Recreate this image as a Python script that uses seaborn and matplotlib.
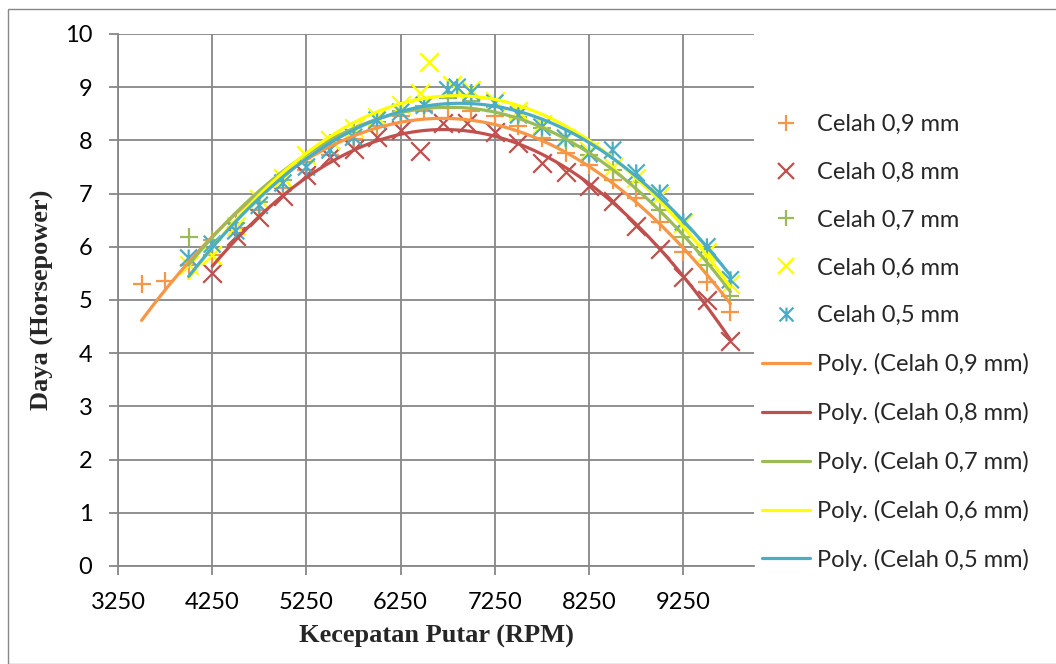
import numpy as np
import pandas as pd
import matplotlib
matplotlib.use("Agg")
import matplotlib.pyplot as plt
import seaborn as sns
from matplotlib.lines import Line2D
from matplotlib.path import Path
from matplotlib.patches import Rectangle

# ---------------- data ----------------
series_labels = ["Celah 0,9 mm", "Celah 0,8 mm", "Celah 0,7 mm", "Celah 0,6 mm", "Celah 0,5 mm"]

rpm_09 = [3500, 3750, 4000, 4250, 4500, 4750, 5000, 5250, 5500, 5750, 6000, 6250, 6500,
          6750, 7000, 7250, 7500, 7750, 8000, 8250, 8500, 8750, 9000, 9250, 9500, 9750]
hp_09 = [5.30, 5.35, 5.65, 5.85, 6.35, 6.70, 7.10, 7.45, 7.72, 8.02, 8.28, 8.45, 8.55,
         8.60, 8.55, 8.46, 8.28, 8.04, 7.76, 7.54, 7.26, 6.92, 6.47, 5.90, 5.34, 4.77]

rpm_08 = [4250, 4500, 4750, 5000, 5250, 5500, 5750, 6000, 6250, 6450, 6700, 6950,
          7250, 7500, 7750, 8000, 8250, 8500, 8750, 9000, 9250, 9500, 9750]
hp_08 = [5.50, 6.20, 6.56, 6.95, 7.35, 7.68, 7.83, 8.07, 8.20, 7.80, 8.32, 8.32,
         8.15, 7.95, 7.58, 7.40, 7.15, 6.86, 6.40, 5.96, 5.43, 5.00, 4.23]

rpm_07 = [4000, 4250, 4500, 4750, 5000, 5250, 5500, 5750, 6000, 6250, 6500, 6750,
          7000, 7250, 7500, 7750, 8000, 8250, 8500, 8750, 9000, 9250, 9500, 9750]
hp_07 = [6.18, 6.13, 6.45, 6.85, 7.25, 7.60, 7.95, 8.15, 8.35, 8.55, 8.65, 8.80,
         8.75, 8.62, 8.44, 8.23, 8.00, 7.73, 7.44, 7.21, 6.70, 6.18, 5.66, 5.08]

rpm_06 = [4000, 4250, 4500, 4750, 5000, 5250, 5500, 5750, 6000, 6250, 6450, 6550,
          6800, 7000, 7250, 7500, 7750, 8000, 8250, 8500, 8750, 9000, 9250, 9500, 9750]
hp_06 = [5.65, 5.85, 6.40, 6.90, 7.30, 7.72, 8.00, 8.23, 8.44, 8.66, 8.90, 9.47,
         9.04, 8.95, 8.75, 8.55, 8.30, 8.05, 7.80, 7.50, 7.30, 6.95, 6.45, 5.90, 5.30]

rpm_05 = [4000, 4250, 4500, 4750, 5000, 5250, 5500, 5750, 6000, 6250, 6500, 6750,
          6850, 7000, 7250, 7500, 7750, 8000, 8250, 8500, 8750, 9000, 9250, 9500, 9750]
hp_05 = [5.79, 6.05, 6.30, 6.78, 7.20, 7.50, 7.82, 8.06, 8.38, 8.53, 8.66, 8.95,
         9.00, 8.90, 8.70, 8.48, 8.25, 8.04, 7.75, 7.82, 7.39, 7.01, 6.47, 6.00, 5.38]

x_ticks = [3250, 4250, 5250, 6250, 7250, 8250, 9250]
y_ticks = [0, 1, 2, 3, 4, 5, 6, 7, 8, 9, 10]

colors = ["#F79646", "#C0504D", "#9BBB59", "#FFFF00", "#4BACC6"]

# asterisk marker (x plus vertical bar), like Excel's '*'
ast = Path([(-1, -1), (1, 1), (-1, 1), (1, -1), (0, -1), (0, 1)],
           [Path.MOVETO, Path.LINETO, Path.MOVETO, Path.LINETO, Path.MOVETO, Path.LINETO])
markers = ["+", "x", "+", "x", ast]

all_rpm = [rpm_09, rpm_08, rpm_07, rpm_06, rpm_05]
all_hp = [hp_09, hp_08, hp_07, hp_06, hp_05]

# ---------------- figure ----------------
sns.set_style("white")
plt.rcParams["font.family"] = ["Lato", "DejaVu Sans"]

W, H = 1056, 664
fig = plt.figure(figsize=(W / 100, H / 100), dpi=100)
L, R, T, B = 118, 754, 34, 566
ax = fig.add_axes([L / W, 1 - B / H, (R - L) / W, (B - T) / H])

grid_c = "#878787"

# markers
for rpm, hp, c, m in zip(all_rpm, all_hp, colors, markers):
    df = pd.DataFrame({"rpm": rpm, "hp": hp})
    if isinstance(m, Path):
        sns.scatterplot(data=df, x="rpm", y="hp", marker=m, s=150, facecolor="none",
                        edgecolor=c, linewidth=1.6, ax=ax, zorder=3, legend=False)
    else:
        sns.scatterplot(data=df, x="rpm", y="hp", marker=m, s=180, color=c,
                        linewidth=1.6, ax=ax, zorder=3, legend=False)

# polynomial (order 2) trendlines
for rpm, hp, c in zip(all_rpm, all_hp, colors):
    coef = np.polyfit(rpm, hp, 2)
    xs = np.linspace(min(rpm), max(rpm), 300)
    tdf = pd.DataFrame({"rpm": xs, "hp": np.polyval(coef, xs)})
    sns.lineplot(data=tdf, x="rpm", y="hp", color=c, linewidth=2.3, ax=ax,
                 zorder=4, estimator=None, sort=False, legend=False)

ax.set_xlim(3250, 10000)
ax.set_ylim(0, 10)
ax.set_xticks(x_ticks)
ax.set_yticks(y_ticks)
ax.set_xticklabels([str(v) for v in x_ticks])
ax.set_yticklabels([str(v) for v in y_ticks])
ax.grid(True, color=grid_c, linewidth=1.3)
ax.set_axisbelow(True)
for s in ["top", "right"]:
    ax.spines[s].set_visible(False)
for s in ["left", "bottom"]:
    ax.spines[s].set_color(grid_c)
    ax.spines[s].set_linewidth(1.3)
ax.tick_params(axis="both", which="major", direction="out", length=6.5, width=1.3,
               color=grid_c, labelsize=17, labelcolor="black")
ax.tick_params(axis="x", pad=12)
ax.tick_params(axis="y", pad=12)
ax.tick_params(left=True, bottom=True)

ax.set_xlabel("Kecepatan Putar (RPM)", family="Liberation Serif", fontweight="bold",
              fontsize=19)
ax.set_ylabel("Daya (Horsepower)", family="Liberation Serif", fontweight="bold",
              fontsize=19)
ax.xaxis.set_label_coords(0.5, (B - 636) / (B - T))
ax.xaxis.label.set_va("center")
ax.yaxis.set_label_coords((42 - L) / (R - L), 0.5)
ax.yaxis.label.set_va("center")

# legend
handles = []
labels = []
for lab, c, m in zip(series_labels, colors, markers):
    handles.append(Line2D([], [], linestyle="none", marker=m, color=c,
                          markerfacecolor="none", markeredgecolor=c,
                          markersize=12 if not isinstance(m, Path) else 10,
                          markeredgewidth=1.6))
    labels.append(lab)
for lab, c in zip(series_labels, colors):
    handles.append(Line2D([], [], color=c, linewidth=2.3))
    labels.append("Poly. (" + lab + ")")
fig.legend(handles, labels, loc="upper left", bbox_to_anchor=(762 / W, 1 - 114 / H),
           frameon=False, fontsize=17, handlelength=2.03, handletextpad=0.3,
           labelspacing=1.135, borderpad=0, borderaxespad=0)

# outer chart border
fig.patches.append(Rectangle((8 / W, 0), 1.2, 1 - 9 / H, transform=fig.transFigure,
                             fill=False, edgecolor="#888888", linewidth=1.0))

fig.savefig("out.png", dpi=100)
